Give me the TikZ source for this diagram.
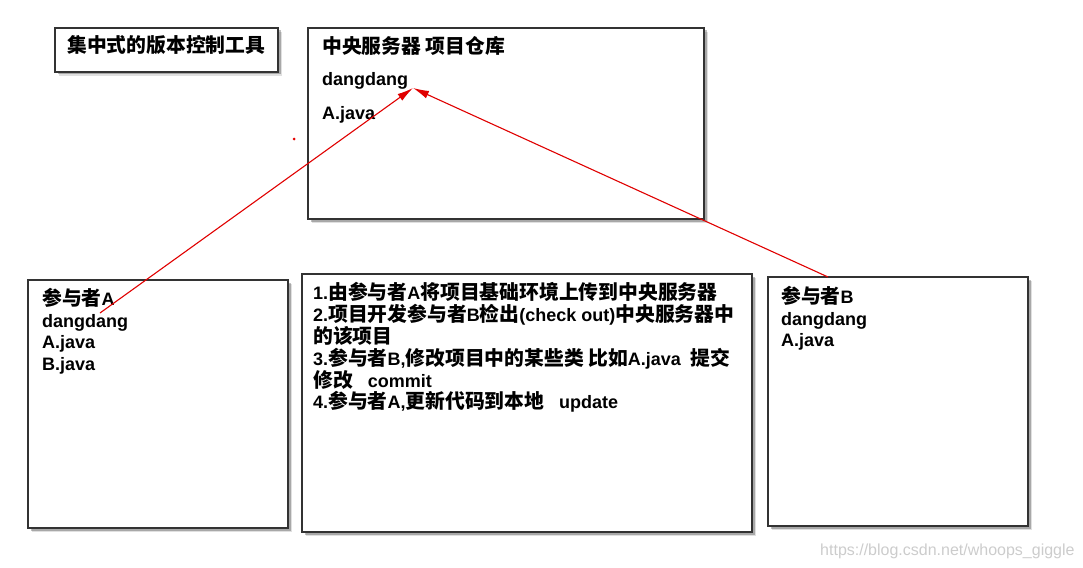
\documentclass[tikz,border=0pt]{standalone}
\usepackage{fontspec}
\setmainfont{Liberation Sans}
\newfontfamily\cjk{Noto Sans CJK SC}[Scale=1.1]
\newcommand\zh[1]{{\cjk #1}}
\usetikzlibrary{shadows,arrows.meta}
\begin{document}
\begin{tikzpicture}[x=1pt,y=-1pt,
  box/.style={draw=black!80, line width=1.3pt, fill=white, anchor=north west,
    inner sep=0pt, outer sep=0pt,
    drop shadow={shadow xshift=4pt, shadow yshift=-4pt, fill=black, opacity=0.12},
    drop shadow={shadow xshift=2.5pt, shadow yshift=-2.5pt, fill=black, opacity=0.25}},
  txt/.style={anchor=base west, inner sep=0pt, font=\fontsize{18}{22}\selectfont\bfseries},
  arr/.style={draw=red!88!black, line width=1.1pt, -{Latex[length=16pt,width=8pt]}}]
\useasboundingbox (0,0) rectangle (1083,567);
% boxes
\node[box, minimum width=223pt, minimum height=44pt] (title) at (55,28) {};
\node[box, minimum width=396pt, minimum height=191pt] (server) at (308,28) {};
\node[box, minimum width=260pt, minimum height=248pt] (boxA) at (28,280) {};
\node[box, minimum width=450pt, minimum height=258pt] (steps) at (302,274) {};
\node[box, minimum width=260pt, minimum height=249pt] (boxB) at (768,277) {};
% title
\node[txt] (t0) at (67,53) {\zh{集中式的版本控制工具}};
% server
\node[txt] (s1) at (322,54) {\zh{中央服务器 项目仓库}};
\node[txt] (s2) at (322,86) {dangdang};
\node[txt] (s3) at (322,119) {A.java};
% A
\node[txt] (a1) at (42,305) {\zh{参与者}A};
\node[txt] (a2) at (42,327) {dangdang};
\node[txt] (a3) at (42,348) {A.java};
\node[txt] (a4) at (42,370) {B.java};
% B
\node[txt] (b1) at (781,303) {\zh{参与者}B};
\node[txt] (b2) at (781,325) {dangdang};
\node[txt] (b3) at (781,346) {A.java};
% steps
\node[txt] (m1) at (313,299) {1.\zh{由参与者}A\zh{将项目基础环境上传到中央服务器}};
\node[txt] (m2) at (313,321) {2.\zh{项目开发参与者}B\zh{检出}(check out)\zh{中央服务器中}};
\node[txt] (m3) at (313,343) {\zh{的该项目}};
\node[txt] (m4) at (313,365) {3.\zh{参与者}B,\zh{修改项目中的某些类 比如}A.java\ \ \zh{提交}};
\node[txt] (m5) at (313,387) {\zh{修改}\ \ \ commit};
\node[txt] (m6) at (313,408) {4.\zh{参与者}A,\zh{更新代码到本地}\ \ \ update};
% arrows
\coordinate (tip) at (413,88);
\coordinate (aStart) at (100,313);
\coordinate (bStart) at (828,277);
\draw[arr] (aStart) -- (tip);
\draw[arr] (bStart) -- (tip);
\node[circle, fill=red!90!black, inner sep=0pt, minimum size=3pt] (dot) at (294,139) {};
% watermark
\node[anchor=base west, inner sep=0pt, text=black!20, font=\fontsize{16}{16}\selectfont] (wm) at (820,555) {https://blog.csdn.net/whoops\_giggle};
\end{tikzpicture}
\end{document}
